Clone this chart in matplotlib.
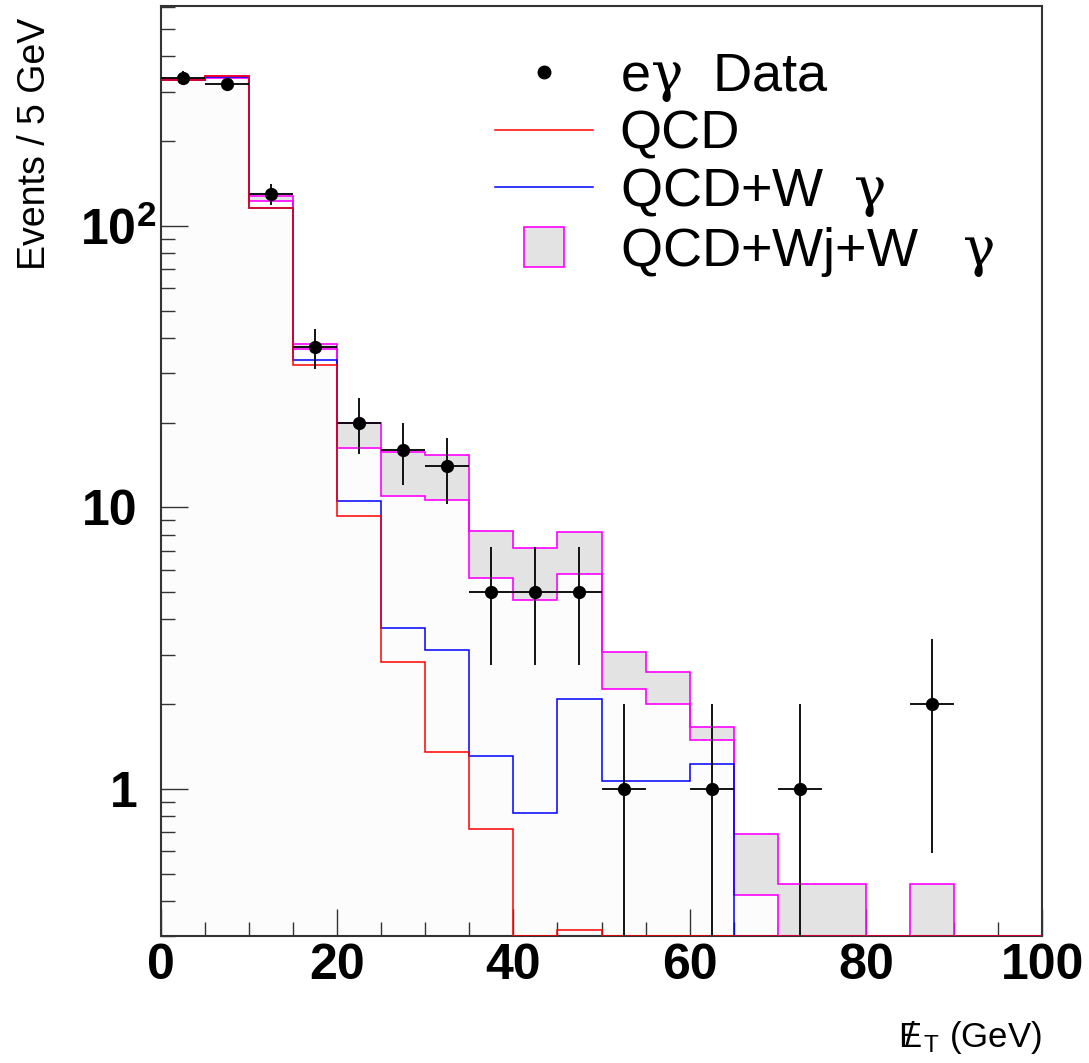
import numpy as np
import matplotlib
matplotlib.use("Agg")
import matplotlib.pyplot as plt
from matplotlib.lines import Line2D
from matplotlib.transforms import ScaledTranslation
from matplotlib.ticker import FixedLocator, FixedFormatter, LogLocator, MultipleLocator, NullFormatter

plt.rcParams['font.family'] = ['Liberation Sans', 'DejaVu Sans']
plt.rcParams['mathtext.fontset'] = 'custom'
plt.rcParams['mathtext.rm'] = 'Liberation Sans'
plt.rcParams['mathtext.it'] = 'DejaVu Serif'
plt.rcParams['mathtext.bf'] = 'Liberation Sans:bold'

# missing E_T, 5 GeV bins
edges = np.arange(0, 105, 5)
centers = edges[:-1] + 2.5

data = np.array([336, 318, 130, 37, 20, 16, 14, 5, 5, 5, 1, 0, 1, 0, 1, 0, 0, 2, 0, 0])
data_err = np.array([18.3, 17.8, 11.4, 6.1, 4.5, 4.0, 3.7, 2.24, 2.24, 2.24,
                     1.0, 0, 1.0, 0, 1.0, 0, 0, 1.41, 0, 0])

qcd = np.array([331, 341, 116, 32.1, 9.35, 2.83, 1.35, 0.72, 0, 0.316,
                0, 0, 0, 0, 0, 0, 0, 0, 0, 0])
qcd_wg = np.array([330, 339, 115.6, 33.3, 10.5, 3.72, 3.12, 1.31, 0.82, 2.09,
                   1.07, 1.07, 1.23, 0, 0, 0, 0, 0, 0, 0])
total_hi = np.array([332, 340, 128, 38.1, 20, 15.7, 15.4, 8.27, 7.16, 8.14,
                     3.06, 2.59, 1.66, 0.69, 0.46, 0.46, 0, 0.46, 0, 0])
total_lo = np.array([329, 335, 123, 36.5, 16.2, 11.0, 10.6, 5.6, 4.69, 5.79,
                     2.27, 2.0, 1.49, 0.42, 0, 0, 0, 0, 0, 0])

ymin, ymax = 0.3, 604
floor = 1e-2

fig = plt.figure(figsize=(10.89, 10.63), dpi=100)
ax = fig.add_axes([161/1089, 1 - 936/1063, 881/1089, 930/1063])
ax.set_yscale('log')

# fills
ax.stairs(np.maximum(total_lo, floor), edges, baseline=floor, fill=True,
          color='#fcfcfc', zorder=1)
ax.stairs(np.maximum(total_hi, floor), edges, baseline=np.maximum(total_lo, floor),
          fill=True, color='#e3e3e3', zorder=2)

# outlines
ax.stairs(np.maximum(total_hi, ymin), edges, baseline=None, color='#ff00ff', lw=1.2, zorder=3)
ax.stairs(np.maximum(total_lo, ymin), edges, baseline=None, color='#ff00ff', lw=1.2, zorder=3)
ax.stairs(np.maximum(qcd_wg, ymin), edges, baseline=None, color='#0000ff', lw=1.1, zorder=4)
ax.stairs(np.maximum(qcd, ymin), edges, baseline=None, color='#ff0000', lw=1.1, zorder=5)

m = data > 0
ax.errorbar(centers[m], data[m], yerr=data_err[m], xerr=2.5, fmt='o', color='black',
            ms=8.5, elinewidth=1.3, capsize=0, zorder=6)

ax.set_xlim(0, 100)
ax.set_ylim(ymin, ymax)

ax.xaxis.set_major_locator(MultipleLocator(20))
ax.xaxis.set_minor_locator(MultipleLocator(5))
ax.yaxis.set_major_locator(FixedLocator([1, 10, 100]))
ax.yaxis.set_major_formatter(FixedFormatter(['1', '10', r'$\mathbf{10}^{\mathbf{2}}$']))
ax.yaxis.set_minor_locator(LogLocator(base=10, subs=np.arange(2, 10)))
ax.yaxis.set_minor_formatter(NullFormatter())

ax.tick_params(which='both', direction='in', color='#333333', width=1,
               top=False, right=False, labelsize=36)
ax.tick_params(which='major', length=19.5)
ax.tick_params(which='minor', length=10)
ax.tick_params(axis='y', which='major', pad=17)
ax.tick_params(axis='x', which='major', pad=5)
for lab in ax.get_xticklabels() + ax.get_yticklabels():
    lab.set_fontweight('bold')

# let the exponent of 10^2 hang to the right, as ROOT does
lab2 = ax.yaxis.get_major_ticks()[2].label1
lab2.set_transform(lab2.get_transform() + ScaledTranslation(19/100, 0, fig.dpi_scale_trans))

for s in ax.spines.values():
    s.set_linewidth(1.5)
    s.set_color('#333333')

ax.set_xlabel(r'$\mathrm{E}\!\!\!/\;{}_{\mathrm{T}}$ (GeV)', fontsize=25, loc='right', labelpad=22)
ax.set_ylabel('Events / 5 GeV', fontsize=27, loc='top')
ax.yaxis.set_label_coords(-0.1226, 0.987)

handles = [
    Line2D([], [], marker='o', ls='none', color='black', ms=9),
    Line2D([], [], color='#ff0000', lw=1.1),
    Line2D([], [], color='#0000ff', lw=1.1),
    Line2D([], [], marker='s', ls='none', ms=29, mfc='#e3e3e3', mec='#ff00ff', mew=1.2),
]
labels = [r'e$\gamma$  Data', 'QCD', r'QCD+W  $\gamma$', r'QCD+Wj+W   $\gamma$']
ax.legend(handles, labels, loc='upper left', bbox_to_anchor=(495/1089, 1 - 52/1063),
          bbox_transform=fig.transFigure, frameon=False, fontsize=39,
          handlelength=1.8, handletextpad=0.5, labelspacing=0.11,
          borderpad=0, borderaxespad=0)

fig.savefig('out.png', dpi=100)
